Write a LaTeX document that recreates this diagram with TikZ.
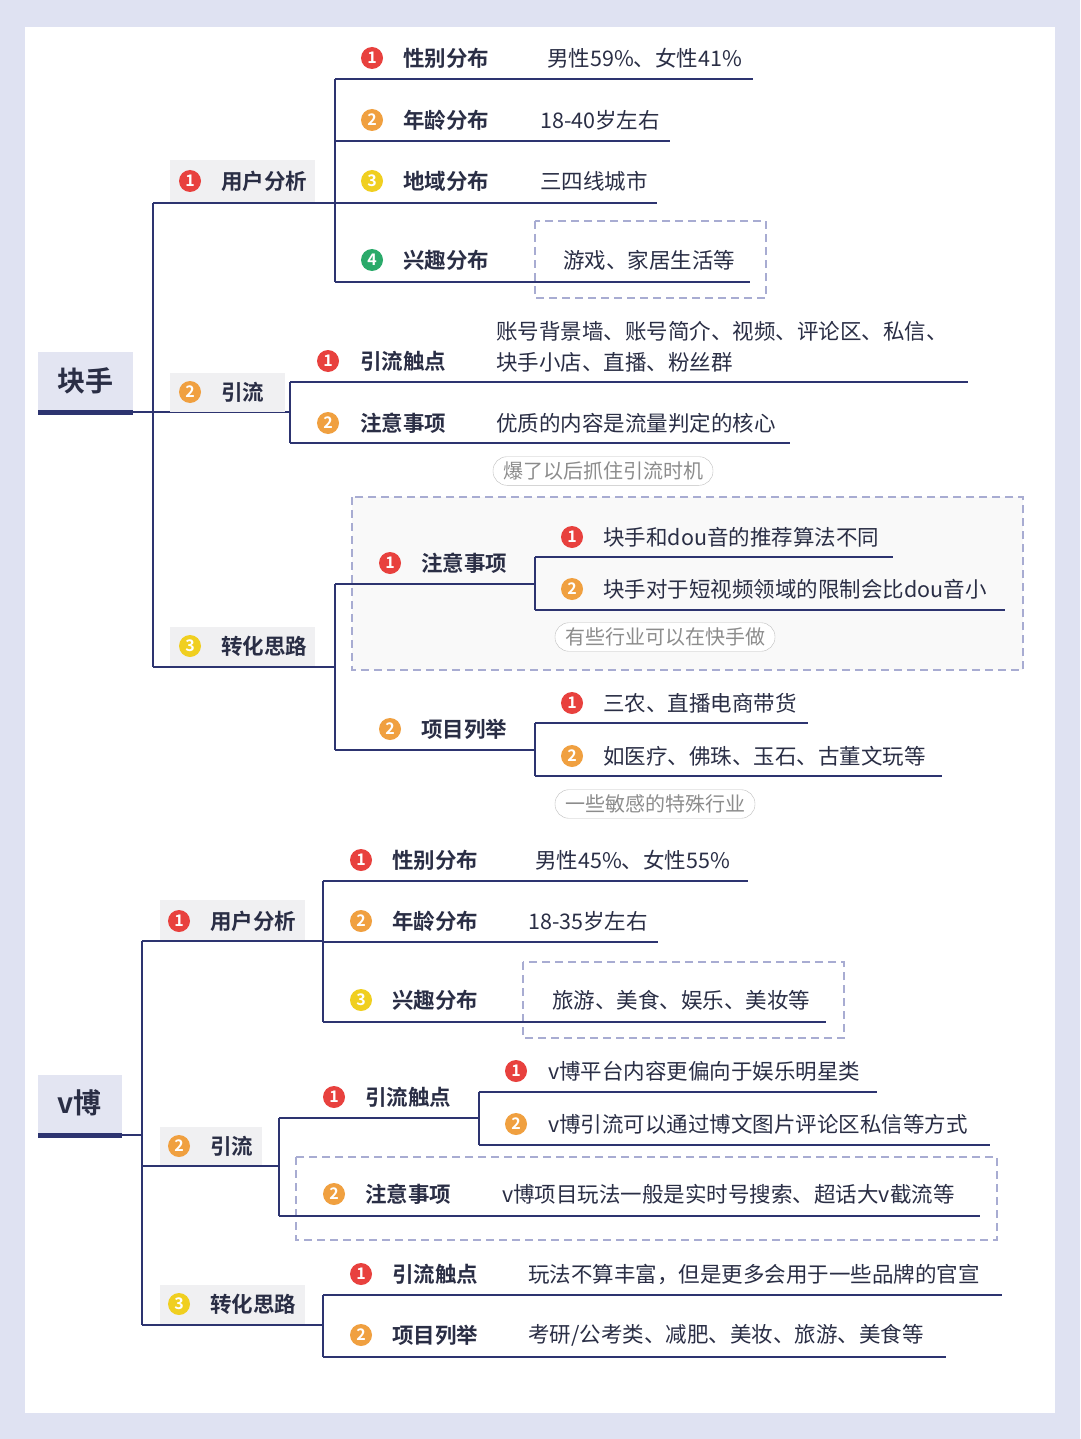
\documentclass[tikz,border=0pt]{standalone}
\usepackage{fontspec}
\setmainfont{Noto Sans CJK SC}
\newfontfamily\cjkb{Noto Sans CJK SC Bold}
\usetikzlibrary{calc}
\definecolor{ln}{HTML}{2D3470}
\definecolor{bgout}{HTML}{DFE2F2}
\definecolor{rootf}{HTML}{E3E5F2}
\definecolor{lab}{HTML}{F0F0F2}
\definecolor{bR}{HTML}{E8413E}
\definecolor{bO}{HTML}{F0A040}
\definecolor{bY}{HTML}{F0CF20}
\definecolor{bG}{HTML}{2AAA6A}
\definecolor{txt}{HTML}{2A2E45}
\definecolor{dsh}{HTML}{A8ACD2}
\tikzset{
 ul/.style={draw=ln,line width=1.4pt},
 bdg/.style={circle,inner sep=0pt,minimum size=22pt,text=white,font=\cjkb\fontsize{16}{16}\selectfont},
 lbl/.style={anchor=west,inner sep=0pt,text=txt,font=\cjkb\fontsize{21.5}{22}\selectfont},
 val/.style={anchor=west,inner sep=0pt,text=txt,font=\fontsize{21.5}{28}\selectfont},
 pill/.style={draw=gray!50,rounded corners=14pt,fill=white,text=gray!90,inner xsep=10pt,inner ysep=5pt,font=\fontsize{20}{20}\selectfont},
 dbox/.style={draw=dsh,dashed,line width=2pt,dash pattern=on 8pt off 5pt},
}
\newcommand\bd[4]{\node[bdg,fill=#4] (b#1) at (#2,#3) {#1};}
\begin{document}
\begin{tikzpicture}[x=1pt,y=-1pt]
\useasboundingbox (0,0) rectangle (1080,1439);
\fill[bgout] (0,0) rectangle (1080,1439);
\fill[white] (25,27) rectangle (1055,1413);
% ===== 块手 =====
\fill[rootf] (38,352) rectangle (133,410);
\node[lbl,font=\cjkb\fontsize{28}{28}\selectfont] (r1) at (57,381) {块手};
\draw[ln,line width=5pt] (38,412) -- (133,412);
\draw[ul] (133,412) -- (290,412);
\draw[ul] (153,203) -- (153,667);
% dashed boxes
\draw[dbox] (535,221) rectangle (766,298);
\draw[dbox,fill=gray!5] (352,497) rectangle (1023,670);
% L1 labels
\fill[lab] (170,160) rectangle (315,203);
\bd{1}{190}{181}{bR}\node[lbl] (a1) at (221,181) {用户分析};
\draw[ul] (153,203) -- (335,203);
\fill[lab] (170,373) rectangle (285,412);
\bd{2}{190}{392}{bO}\node[lbl] (a2) at (221,392) {引流};
\fill[lab] (170,627) rectangle (315,667);
\bd{3}{190}{646}{bY}\node[lbl] (a3) at (221,646) {转化思路};
\draw[ul] (153,667) -- (335,667);
% 用户分析 children
\draw[ul] (335,79) -- (335,282);
\bd{1}{372}{58}{bR}\node[lbl] at (403,58) {性别分布};\node[val] at (547,58) {男性59\%、女性41\%};
\draw[ul] (335,79) -- (753,79);
\bd{2}{372}{120}{bO}\node[lbl] at (403,120) {年龄分布};\node[val] at (540,120) {18-40岁左右};
\draw[ul] (335,141) -- (670,141);
\bd{3}{372}{181}{bY}\node[lbl] at (403,181) {地域分布};\node[val] at (540,181) {三四线城市};
\draw[ul] (335,203) -- (657,203);
\bd{4}{372}{260}{bG}\node[lbl] at (403,260) {兴趣分布};\node[val] at (563,260) {游戏、家居生活等};
\draw[ul] (335,282) -- (750,282);
% 引流 children
\draw[ul] (290,382) -- (290,443);
\bd{1}{328}{361}{bR}\node[lbl] at (360,361) {引流触点};
\node[val] at (496,331) {账号背景墙、账号简介、视频、评论区、私信、};
\node[val] at (496,362) {块手小店、直播、粉丝群};
\draw[ul] (290,382) -- (968,382);
\bd{2}{328}{423}{bO}\node[lbl] at (360,423) {注意事项};\node[val] at (496,423) {优质的内容是流量判定的核心};
\draw[ul] (290,443) -- (790,443);
\node[pill] (p1) at (603,471) {爆了以后抓住引流时机};
% 转化思路 children
\draw[ul] (335,584) -- (335,750);
\bd{1}{390}{563}{bR}\node[lbl] at (421,563) {注意事项};
\draw[ul] (335,584) -- (535,584);
\draw[ul] (535,557) -- (535,610);
\bd{1}{572}{537}{bR}\node[val] at (603,537) {块手和dou音的推荐算法不同};
\draw[ul] (535,557) -- (893,557);
\bd{2}{572}{589}{bO}\node[val] at (603,589) {块手对于短视频领域的限制会比dou音小};
\draw[ul] (535,610) -- (1005,610);
\node[pill] (p2) at (665,637) {有些行业可以在快手做};
\bd{2}{390}{729}{bO}\node[lbl] at (421,729) {项目列举};
\draw[ul] (335,750) -- (535,750);
\draw[ul] (535,723) -- (535,776);
\bd{1}{572}{703}{bR}\node[val] at (603,703) {三农、直播电商带货};
\draw[ul] (535,723) -- (808,723);
\bd{2}{572}{756}{bO}\node[val] at (603,756) {如医疗、佛珠、玉石、古董文玩等};
\draw[ul] (535,776) -- (942,776);
\node[pill] (p3) at (655,804) {一些敏感的特殊行业};
% ===== v博 =====
\fill[rootf] (38,1075) rectangle (122,1133);
\node[lbl,font=\cjkb\fontsize{28}{28}\selectfont] (r2) at (57,1103) {v博};
\draw[ln,line width=5pt] (38,1135) -- (122,1135);
\draw[ul] (122,1135) -- (142,1135);
\draw[ul] (142,941) -- (142,1325);
\draw[dbox] (523,962) rectangle (844,1038);
\draw[dbox] (296,1157) rectangle (997,1240);
\fill[lab] (160,900) rectangle (305,941);
\bd{1}{179}{921}{bR}\node[lbl] at (210,921) {用户分析};
\draw[ul] (142,941) -- (323,941);
\fill[lab] (160,1127) rectangle (262,1166);
\bd{2}{179}{1146}{bO}\node[lbl] at (210,1146) {引流};
\draw[ul] (142,1166) -- (279,1166);
\fill[lab] (160,1285) rectangle (305,1325);
\bd{3}{179}{1304}{bY}\node[lbl] at (210,1304) {转化思路};
\draw[ul] (142,1325) -- (323,1325);
% 用户分析
\draw[ul] (323,881) -- (323,1022);
\bd{1}{361}{860}{bR}\node[lbl] at (392,860) {性别分布};\node[val] at (535,860) {男性45\%、女性55\%};
\draw[ul] (323,881) -- (748,881);
\bd{2}{361}{921}{bO}\node[lbl] at (392,921) {年龄分布};\node[val] at (528,921) {18-35岁左右};
\draw[ul] (323,942) -- (658,942);
\bd{3}{361}{1000}{bY}\node[lbl] at (392,1000) {兴趣分布};\node[val] at (552,1000) {旅游、美食、娱乐、美妆等};
\draw[ul] (323,1022) -- (826,1022);
% 引流
\draw[ul] (279,1118) -- (279,1216);
\bd{1}{334}{1097}{bR}\node[lbl] at (365,1097) {引流触点};
\draw[ul] (279,1118) -- (479,1118);
\draw[ul] (479,1092) -- (479,1145);
\bd{1}{516}{1071}{bR}\node[val] at (548,1071) {v博平台内容更偏向于娱乐明星类};
\draw[ul] (479,1092) -- (877,1092);
\bd{2}{516}{1124}{bO}\node[val] at (548,1124) {v博引流可以通过博文图片评论区私信等方式};
\draw[ul] (479,1145) -- (990,1145);
\bd{2}{334}{1194}{bO}\node[lbl] at (365,1194) {注意事项};\node[val] at (502,1194) {v博项目玩法一般是实时号搜索、超话大v截流等};
\draw[ul] (279,1216) -- (980,1216);
% 转化思路
\draw[ul] (323,1295) -- (323,1357);
\bd{1}{361}{1274}{bR}\node[lbl] at (392,1274) {引流触点};\node[val] at (528,1274) {玩法不算丰富，但是更多会用于一些品牌的官宣};
\draw[ul] (323,1295) -- (1002,1295);
\bd{2}{361}{1335}{bO}\node[lbl] at (392,1335) {项目列举};\node[val] at (528,1335) {考研/公考类、减肥、美妆、旅游、美食等};
\draw[ul] (323,1357) -- (946,1357);
\end{tikzpicture}
\end{document}
